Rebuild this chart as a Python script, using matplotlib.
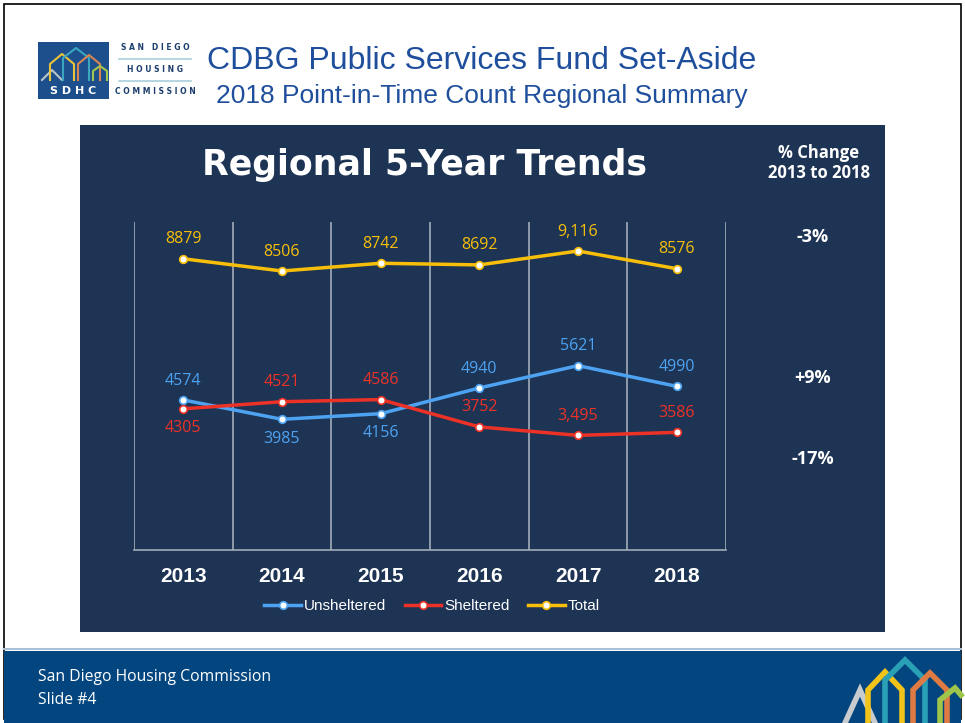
import matplotlib.pyplot as plt
from matplotlib.patches import Rectangle
from matplotlib.lines import Line2D

# data
years = ['2013', '2014', '2015', '2016', '2017', '2018']
unsheltered = [4574, 3985, 4156, 4940, 5621, 4990]
sheltered = [4305, 4521, 4586, 3752, 3495, 3586]
total = [8879, 8506, 8742, 8692, 9116, 8576]
unsheltered_labels = ['4574', '3985', '4156', '4940', '5621', '4990']
sheltered_labels = ['4305', '4521', '4586', '3752', '3,495', '3586']
total_labels = ['8879', '8506', '8742', '8692', '9,116', '8576']
pct_change = ['-3%', '+9%', '-17%']

# label placement (+1 above, -1 below)
unsh_side = [1, -1, -1, 1, 1, 1]
shel_side = [-1, 1, 1, 1, 1, 1]
total_side = [1, 1, 1, 1, 1, 1]

NAVY = '#1e3454'
BLUE = '#4da3f2'
RED = '#ec3227'
GOLD = '#f7bf0a'
TITLE_BLUE = '#1f4f9c'
FOOT = '#03467f'

W, H = 965, 723
fig = plt.figure(figsize=(W / 100, H / 100), dpi=100)
fig.patch.set_facecolor('white')


def fx(x):
    return x / W


def fy(y):
    return 1 - y / H


# slide border
fig.add_artist(Rectangle((fx(4), fy(719)), fx(957), 715 / H, transform=fig.transFigure,
                         fill=False, edgecolor='black', lw=1.2, zorder=0))

# footer band
fig.add_artist(Rectangle((fx(4), 0), fx(957), 72 / H, transform=fig.transFigure,
                         facecolor=FOOT, edgecolor='none', zorder=1))
fig.add_artist(Line2D([fx(4), fx(961)], [fy(649), fy(649)], transform=fig.transFigure,
                      color='#a9bfd6', lw=1.5))
fig.text(fx(38), fy(677), 'San Diego Housing Commission', color='white', fontsize=11.3,
         family='Open Sans', va='center')
fig.text(fx(38), fy(700), 'Slide #4', color='white', fontsize=11.3,
         family='Open Sans', va='center')

# footer house outlines
houses = [([845, 860, 875], [723, 690, 723], '#c8cccf'),
          ([868, 868, 885, 902, 902], [723, 690, 672, 690, 723], '#f2c41a'),
          ([885, 885, 905, 925, 925], [723, 680, 660, 680, 723], '#2aa0b7'),
          ([913, 913, 930, 947, 947], [723, 690, 673, 690, 723], '#e07a43'),
          ([940, 940, 955, 961], [723, 700, 688, 695], '#9fc54a')]
for xs, ys, c in houses:
    fig.add_artist(Line2D([fx(v) for v in xs], [fy(v) for v in ys], transform=fig.transFigure,
                          color=c, lw=4, solid_joinstyle='miter', zorder=2))

# header logo
fig.add_artist(Rectangle((fx(38), fy(99)), fx(71), 57 / H, transform=fig.transFigure,
                         facecolor='#1c4f8c', edgecolor='none'))
fig.text(fx(73), fy(91), 'S D H C', color='white', fontsize=8, fontweight='bold',
         ha='center', va='center', family='DejaVu Sans')
logo_houses = [([42, 52, 62], [80, 70, 80], '#b9c3c9'),
               ([50, 50, 62, 74, 74], [80, 64, 54, 64, 80], '#e8c33a'),
               ([63, 63, 76, 89, 89], [80, 58, 48, 58, 80], '#3aa6c0'),
               ([78, 78, 89, 100, 100], [80, 64, 55, 64, 80], '#d98552'),
               ([93, 93, 100, 107, 107], [80, 71, 66, 71, 80], '#a5c64d')]
for xs, ys, c in logo_houses:
    fig.add_artist(Line2D([fx(v) for v in xs], [fy(v) for v in ys], transform=fig.transFigure,
                          color=c, lw=1.5))
for y, t in [(48, 'S A N   D I E G O'), (70, 'H O U S I N G'), (91, 'C O M M I S S I O N')]:
    fig.text(fx(155), fy(y), t, color='#1c3f6e', fontsize=5.5, fontweight='bold',
             ha='center', va='center')
for y in [59, 81]:
    fig.add_artist(Line2D([fx(119), fx(191)], [fy(y), fy(y)], transform=fig.transFigure,
                          color='#a8d0dc', lw=1.2))

fig.text(fx(482), fy(61), 'CDBG Public Services Fund Set-Aside', color=TITLE_BLUE,
         fontsize=23, family='Liberation Sans', ha='center', va='center')
fig.text(fx(482), fy(96), '2018 Point-in-Time Count Regional Summary', color=TITLE_BLUE,
         fontsize=19, family='Liberation Sans', ha='center', va='center')

# dark panel
fig.add_artist(Rectangle((fx(80), fy(632)), fx(805), 507 / H, transform=fig.transFigure,
                         facecolor=NAVY, edgecolor='none', zorder=1))
fig.text(fx(425), fy(165), 'Regional 5-Year Trends', color='white', fontsize=25,
         fontweight='bold', family='DejaVu Sans', ha='center', va='center')
fig.text(fx(819), fy(163), '% Change\n2013 to 2018', color='white', fontsize=12,
         fontweight='bold', family='Open Sans', ha='center', va='center', linespacing=1.1)
for t, y in zip(pct_change, [237, 378, 459]):
    fig.text(fx(813), fy(y), t, color='white', fontsize=13, fontweight='bold',
             family='Open Sans', ha='center', va='center')

# chart
ax = fig.add_axes([fx(134), fy(550), fx(726 - 134), (550 - 222) / H])
ax.set_zorder(3)
ax.set_facecolor('none')
x = list(range(len(years)))
series = [(unsheltered, unsheltered_labels, unsh_side, BLUE, 'Unsheltered'),
          (sheltered, sheltered_labels, shel_side, RED, 'Sheltered'),
          (total, total_labels, total_side, GOLD, 'Total')]
for vals, labs, side, c, name in series:
    ax.plot(x, vals, color=c, lw=2.5, marker='o', ms=5.5, mfc='white', mec=c, mew=1.2,
            label=name, zorder=3)
    for xi, v, lab, s in zip(x, vals, labs, side):
        ax.annotate(lab, (xi, v), xytext=(0, 14 * s), textcoords='offset points',
                    ha='center', va='center', color=c, fontsize=11.5, family='Open Sans')

ax.set_xlim(-0.5, 5.5)
ax.set_ylim(0, 10000)
ax.set_yticks([])
ax.set_xticks(x)
ax.set_xticklabels(years, color='white', fontsize=15, fontweight='bold', family='Liberation Sans')
ax.set_xticks([i - 0.5 for i in range(len(years) + 1)], minor=True)
ax.tick_params(axis='x', which='both', length=0, pad=12)
ax.grid(True, which='minor', axis='x', color='#a3acb8', lw=1.2)
for s in ['top', 'left', 'right']:
    ax.spines[s].set_visible(False)
ax.spines['bottom'].set_color('#a3acb8')
ax.spines['bottom'].set_linewidth(1.2)

leg = fig.legend(loc='center', bbox_to_anchor=(fx(432), fy(606)), ncol=3, frameon=False,
                 handlelength=2.4, columnspacing=1.2, handletextpad=0.2,
                 prop={'family': 'Liberation Sans', 'size': 11})
leg.set_zorder(4)
for t in leg.get_texts():
    t.set_color('white')

fig.savefig('out.png', dpi=100)
